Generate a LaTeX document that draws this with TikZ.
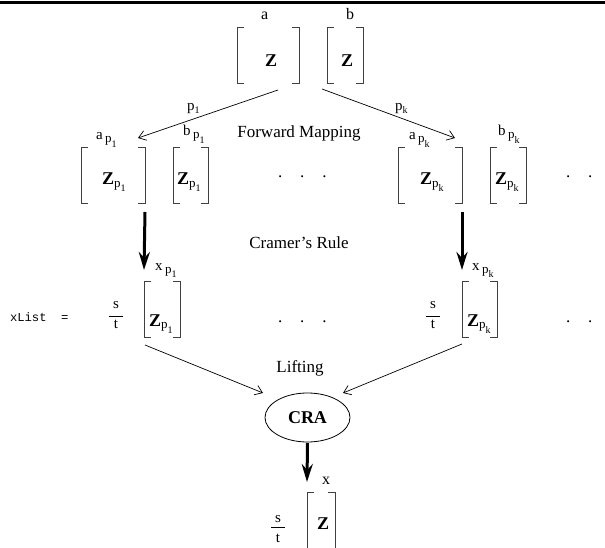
\documentclass[tikz,border=0pt]{standalone}
\usepackage{fontspec}
\setmainfont{Liberation Serif}
\newfontfamily\monof{Liberation Mono}
\usetikzlibrary{arrows.meta,shapes.geometric}
\newcommand\fs[1]{\fontsize{#1}{#1}\selectfont}
\newcommand\lab[2]{{\fs{15}#1}\hspace{2.5pt}\raisebox{-3pt}{\fs{13}p\raisebox{-4.5pt}{\fs{10}#2}}}
\newcommand\zz[1]{{\fs{18}\bfseries Z}\raisebox{-2.5pt}{\fs{13}p\raisebox{-4.5pt}{\fs{10}#1}}}
\newcommand\pl[1]{{\fs{15}p}\raisebox{-3pt}{\fs{10}#1}}
\newcommand\brackets[1]{%
  \draw[brk] ([xshift=7pt]#1.north west) -- (#1.north west) -- (#1.south west) -- ([xshift=7pt]#1.south west);
  \draw[brk] ([xshift=-7pt]#1.north east) -- (#1.north east) -- (#1.south east) -- ([xshift=-7pt]#1.south east);}
\begin{document}
\begin{tikzpicture}[x=1pt,y=-1pt,
  every node/.style={inner sep=0pt,outer sep=0pt},
  bx/.style={rectangle,minimum height=56pt},
  brk/.style={line width=0.8pt,black!75},
  lb/.style={anchor=base west},
  txt/.style={anchor=base,font=\fs{17}},
  thinarrow/.style={line width=0.7pt,-{Straight Barb[length=7pt,width=10pt]}},
  thickarrow/.style={line width=3pt,-{Stealth[length=18pt,width=11pt,inset=6pt]}},
  dots/.style={anchor=base west,font=\fs{17}},
  frac/.style={anchor=base,font=\fs{15}}]
\useasboundingbox (0,0) rectangle (605,548);
\clip (0,0) rectangle (605,548);
\draw[line width=3pt] (0,2.5) -- (605,2.5);

% top row
\node[bx,minimum width=62pt] (A) at (268,55) {};
\node[bx,minimum width=36pt] (B) at (345,55) {};
\brackets{A}\brackets{B}
\node[lb,font=\fs{16}] (la) at (261,20) {a};
\node[lb,font=\fs{16}] (lbb) at (346,20) {b};
\node[lb,font=\fs{18}\bfseries] (za) at (265,67) {Z};
\node[lb,font=\fs{18}\bfseries] (zb) at (341,67) {Z};

% forward mapping
\coordinate (s1) at (278,90);
\coordinate (e1) at (138,138);
\coordinate (s2) at (322,89);
\coordinate (e2) at (455,138);
\draw[thinarrow] (s1) -- (e1);
\draw[thinarrow] (s2) -- (e2);
\node[lb] (p1) at (187,111) {\pl{1}};
\node[lb] (pk) at (395,111) {\pl{k}};
\node[txt] (fm) at (299,138) {Forward Mapping};

% second row
\node[bx,minimum width=64pt] (AP1) at (113,175) {};
\node[bx,minimum width=35pt] (BP1) at (190.5,175) {};
\node[bx,minimum width=64pt] (APK) at (430,175) {};
\node[bx,minimum width=36pt] (BPK) at (508,175) {};
\brackets{AP1}\brackets{BP1}\brackets{APK}\brackets{BPK}
\node[lb] (lap1) at (96,140) {\lab{a}{1}};
\node[lb] (lbp1) at (183,136) {\lab{b}{1}};
\node[lb] (lapk) at (409,140) {\lab{a}{k}};
\node[lb] (lbpk) at (498,136) {\lab{b}{k}};
\node[lb] (zap1) at (102,185) {\zz{1}};
\node[lb] (zbp1) at (177,185) {\zz{1}};
\node[lb] (zapk) at (420,185) {\zz{k}};
\node[lb] (zbpk) at (495,185) {\zz{k}};
\node[dots] (d1) at (278,177.5) {.\hspace{18pt}.\hspace{18pt}.};
\node[dots] (d2) at (566,177.5) {.\hspace{18pt}.};

% Cramer
\node[bx,minimum width=36pt] (XP1) at (162,309) {};
\node[bx,minimum width=35pt] (XPK) at (479.5,309) {};
\brackets{XP1}\brackets{XPK}
\draw[thickarrow] ([yshift=-9pt]AP1.south east) -- ([yshift=11pt]XP1.north west);
\draw[thickarrow] ([yshift=-9pt]APK.south east) -- ([yshift=11pt]XPK.north west);
\node[txt] (cr) at (299,248) {Cramer's Rule};

% third row
\node[anchor=base west,font=\monof\fs{12.2}] (xl) at (10,321) {xList\ \ =};
\node[frac] (fs1) at (116,308) {s};
\node[frac] (ft1) at (116,328) {t};
\draw[line width=0.6pt] (109,316) -- (123,316);
\node[frac] (fs2) at (433,308) {s};
\node[frac] (ft2) at (433,328) {t};
\draw[line width=0.6pt] (426,316) -- (440,316);
\node[lb] (lxp1) at (155,270) {\lab{x}{1}};
\node[lb] (lxpk) at (472,270) {\lab{x}{k}};
\node[lb] (zxp1) at (149,326) {\zz{1}};
\node[lb] (zxpk) at (467,326) {\zz{k}};
\node[dots] (d3) at (278,322) {.\hspace{18pt}.\hspace{18pt}.};
\node[dots] (d4) at (566,322) {.\hspace{18pt}.};

% lifting
\node[ellipse,draw,line width=0.8pt,minimum width=85pt,minimum height=49pt,font=\fs{18}\bfseries] (cra) at (307.5,417.5) {CRA};
\coordinate (s3) at (145,345);
\coordinate (e3) at (263,393);
\coordinate (s4) at (462,344);
\coordinate (e4) at (343,393);
\draw[thinarrow] (s3) -- (e3);
\draw[thinarrow] (s4) -- (e4);
\node[txt] (lift) at (300,372) {Lifting};

% result
\node[rectangle,minimum width=28pt,minimum height=68pt] (XB) at (321,526) {};
\brackets{XB}
\draw[thickarrow] ([yshift=-1pt]cra.south) -- ([yshift=10pt]XB.north west);
\node[lb,font=\fs{16}] (lx) at (322,484) {x};
\node[lb,font=\fs{18}\bfseries] (zx) at (317,529) {Z};
\node[frac] (fs3) at (278,522) {s};
\node[frac] (ft3) at (278,542) {t};
\draw[line width=0.6pt] (271,527) -- (285,527);
\end{tikzpicture}
\end{document}
